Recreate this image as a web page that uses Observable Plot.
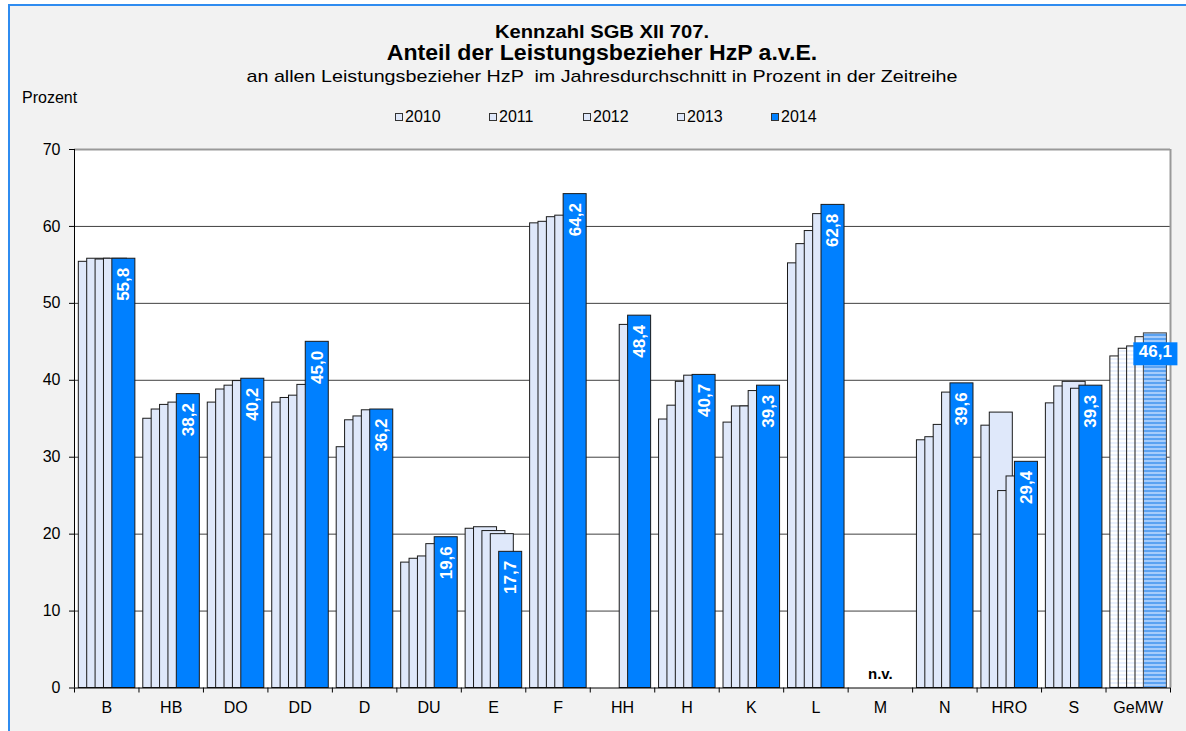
<!DOCTYPE html>
<html><head><meta charset="utf-8">
<script src="https://cdn.jsdelivr.net/npm/d3@7"></script>
<script src="https://cdn.jsdelivr.net/npm/@observablehq/plot@0.6"></script>
<style>
body{margin:0;background:#fff;font-family:"Liberation Sans",Arial,sans-serif;}
#wrap{position:relative;width:1186px;height:731px;background:#fff;overflow:hidden;}
#panel{position:absolute;left:8px;top:4px;right:-4px;bottom:-4px;background:#f2f2f2;border-top:2px solid #2f8cf0;border-left:2px solid #2f8cf0;}
.t{position:absolute;left:0;width:1204px;text-align:center;white-space:pre;color:#000;line-height:1;transform-origin:602px 50%;}
#prozent{position:absolute;left:22px;top:89.5px;font-size:16px;line-height:1;}
.leg{position:absolute;top:108.5px;font-size:16px;line-height:1;white-space:nowrap;}
.leg i{position:absolute;left:0;top:4.5px;width:6px;height:6px;border:1px solid #333;}
.leg span{position:absolute;left:10px;top:0;}
#chart{position:absolute;left:0;top:130px;}
</style>
</head><body>
<div id="wrap">
  <div id="panel"></div>
  <div class="t" id="t1" style="top:23px;font-size:18px;font-weight:bold;transform:scaleX(1.12);"></div>
  <div class="t" id="t2" style="top:42px;font-size:22px;font-weight:bold;transform:scaleX(1.05);"></div>
  <div class="t" id="t3" style="top:67.6px;font-size:17px;transform:scaleX(1.16);"></div>
  <div id="prozent"></div>
  <div id="legend"></div>
  <div id="chart"></div>
</div>
<script>
const title1 = "Kennzahl SGB XII 707.";
const title2 = "Anteil der Leistungsbezieher HzP a.v.E.";
const subtitle = "an allen Leistungsbezieher HzP  im Jahresdurchschnitt in Prozent in der Zeitreihe";
const yAxisLabel = "Prozent";
const missingText = "n.v.";

const categories = ["B","HB","DO","DD","D","DU","E","F","HH","H","K","L","M","N","HRO","S","GeMW"];
const years = ["2010","2011","2012","2013","2014"];
const v2010 = [55.4,35.0,37.1,37.1,31.3,16.3,20.7,60.4,null,34.9,34.5,55.2,null,32.2,34.1,37.0,43.1];
const v2011 = [55.8,36.2,38.8,37.7,34.8,16.8,20.9,60.6,null,36.7,36.6,57.7,null,32.6,35.8,39.2,44.1];
const v2012 = [55.7,36.8,39.3,38.0,35.3,17.1,20.4,61.2,null,39.8,36.6,59.4,null,34.2,25.6,39.8,44.4];
const v2013 = [55.8,37.1,39.9,39.4,36.1,18.7,20.0,61.4,47.2,40.6,38.6,61.6,null,38.4,27.5,38.9,45.6];
const v2014 = [55.8,38.2,40.2,45.0,36.2,19.6,17.7,64.2,48.4,40.7,39.3,62.8,null,39.6,29.4,39.3,46.1];
const yTicks = [0,10,20,30,40,50,60,70];
const averageCategory = "GeMW";

// ---- styles / layout
const LIGHT = "#dfe8fa", BLUE = "#0080ff";
const START = 0.067, STEP = 0.13, WIDTH = 0.357;

document.getElementById("t1").textContent = title1;
document.getElementById("t2").textContent = title2;
document.getElementById("t3").textContent = subtitle;
document.getElementById("prozent").textContent = yAxisLabel;

const legend = document.getElementById("legend");
years.forEach((y, k) => {
  const d = document.createElement("div");
  d.className = "leg";
  d.style.left = (395 + k * 94) + "px";
  d.innerHTML = `<i style="background:${k === 4 ? BLUE : LIGHT}"></i><span>${y}</span>`;
  legend.appendChild(d);
});

const series = [v2010, v2011, v2012, v2013, v2014];
const rows = [];
categories.forEach((c, i) => years.forEach((y, k) => {
  const v = series[k][i];
  if (v != null) rows.push({cat: c, i, k, year: y, value: v});
}));
const x1 = d => d.i + START + d.k * STEP;
const x2 = d => d.i + START + d.k * STEP + WIDTH;
const xc = d => d.i + START + d.k * STEP + WIDTH / 2;
const fmt = v => d3.format(".1f")(v).replace(".", ",");

const normalLight = rows.filter(d => d.cat !== averageCategory && d.k < 4);
const normalBlue = rows.filter(d => d.cat !== averageCategory && d.k === 4);
const avgLight = rows.filter(d => d.cat === averageCategory && d.k < 4);
const avgBlue = rows.filter(d => d.cat === averageCategory && d.k === 4);
const missing = categories.map((c, i) => ({cat: c, i})).filter(d => series.every(s => s[d.i] == null));

const centers = categories.map((c, i) => i + 0.5);
const bounds = d3.range(0, categories.length + 1);

const plot = Plot.plot({
  width: 1186,
  height: 601,
  marginTop: 19,
  marginBottom: 43.5,
  marginLeft: 74,
  marginRight: 16,
  style: {background: "transparent", fontFamily: "Liberation Sans, Arial, sans-serif", color: "#000"},
  x: {type: "linear", domain: [0, categories.length], label: null},
  y: {domain: [0, 70], label: null},
  marks: [
    Plot.frame({fill: "white", stroke: null}),
    Plot.ruleY(yTicks.filter(t => t > 0 && t < 70), {stroke: "#404040", strokeWidth: 1}),
    Plot.ruleY([70], {stroke: "#999", strokeWidth: 2}),
    Plot.ruleX([categories.length], {y1: 0, y2: 70, stroke: "#999", strokeWidth: 2}),
    Plot.rectY(normalLight, {x1, x2, y: "value", fill: LIGHT, stroke: "#1a1a1a", strokeWidth: 1}),
    Plot.rectY(normalBlue, {x1, x2, y: "value", fill: BLUE, stroke: "#1a1a1a", strokeWidth: 1}),
    Plot.rectY(avgLight, {x1, x2, y: "value", fill: "url(#patLight)", stroke: "#1a1a1a", strokeWidth: 1}),
    Plot.rectY(avgBlue, {x1, x2, y: "value", fill: "url(#patBlue)", stroke: "#444", strokeWidth: 1}),
    Plot.text(normalBlue, {x: xc, y: "value", text: d => fmt(d.value), rotate: -90, textAnchor: "end", dy: 9,
      fill: "white", fontWeight: "bold", fontSize: 17}),
    Plot.text(avgBlue, {x: xc, y: "value", text: d => fmt(d.value), dy: 18,
      fill: "white", fontWeight: "bold", fontSize: 17}),
    Plot.text(missing, {x: d => d.i + 0.5, y: 0, text: () => missingText, dy: -14, fontWeight: "bold", fontSize: 15}),
    Plot.ruleX([0], {y1: 0, y2: 70, stroke: "#000"}),
    Plot.ruleY([0], {stroke: "#000"}),
    Plot.axisY({ticks: yTicks, tickSize: 5, tickPadding: 9, fontSize: 16, tickFormat: d => d, stroke: "#000"}),
    Plot.axisX({ticks: bounds, tickSize: 5, tickFormat: () => "", stroke: "#000"}),
    Plot.axisX({ticks: centers, tickSize: 0, tickPadding: 14, fontSize: 16, tickFormat: d => categories[Math.floor(d)]})
  ]
});
document.getElementById("chart").appendChild(plot);

// patterns for the average group
const svg = d3.select(plot);
const defs = svg.insert("defs", ":first-child");
const pb = defs.append("pattern").attr("id", "patBlue").attr("patternUnits", "userSpaceOnUse").attr("width", 4).attr("height", 4);
pb.append("rect").attr("width", 4).attr("height", 4).attr("fill", "#a6ccfb");
pb.append("rect").attr("width", 4).attr("height", 2).attr("fill", "#5aa2f2");
const pl = defs.append("pattern").attr("id", "patLight").attr("patternUnits", "userSpaceOnUse").attr("width", 4).attr("height", 4);
pl.append("rect").attr("width", 4).attr("height", 4).attr("fill", "#ffffff");
pl.append("rect").attr("width", 4).attr("height", 2).attr("fill", "#e9f0fd");

// blue box behind the average label
const avgLabel = avgBlue.length ? fmt(avgBlue[0].value) : null;
plot.querySelectorAll("text").forEach(t => {
  if (t.textContent === avgLabel && !(t.getAttribute("transform") || "").includes("rotate")) {
    const b = t.getBBox();
    const r = document.createElementNS("http://www.w3.org/2000/svg", "rect");
    r.setAttribute("x", b.x - 5.5);
    r.setAttribute("y", b.y + 0.5);
    r.setAttribute("width", b.width + 11);
    r.setAttribute("height", b.height + 4);
    r.setAttribute("fill", BLUE);
    const tr = t.getAttribute("transform");
    if (tr) r.setAttribute("transform", tr);
    t.parentNode.insertBefore(r, t);
  }
});
</script>
</body></html>
